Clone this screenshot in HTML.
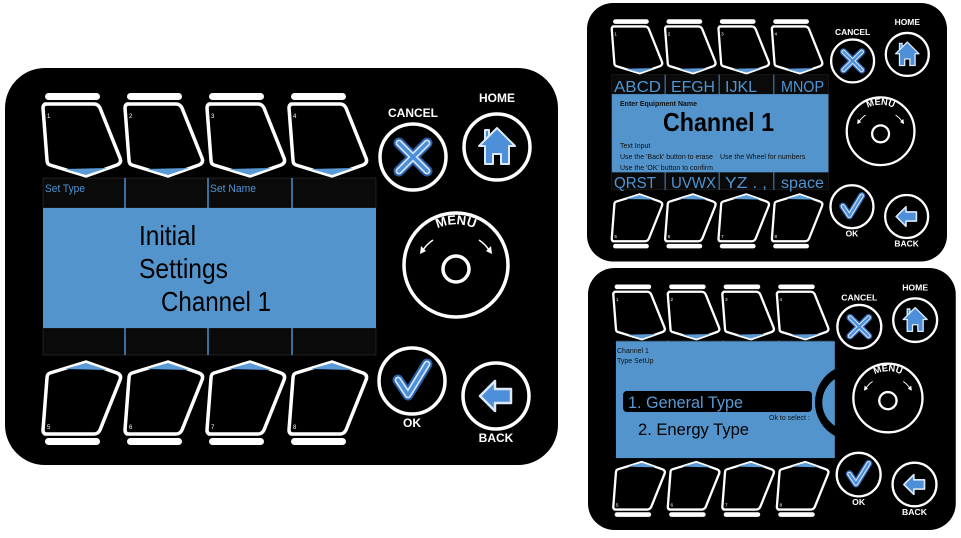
<!DOCTYPE html>
<html><head><meta charset="utf-8"><style>
html,body{margin:0;padding:0;background:#fff;width:961px;height:538px;overflow:hidden}
svg{display:block}
text{font-family:"Liberation Sans",sans-serif}
</style></head><body>
<svg width="961" height="538" viewBox="0 0 961 538" xmlns="http://www.w3.org/2000/svg">
<defs>
<path id="marc" d="M411 182 A44 44 0 0 1 491 182" fill="none"/>
<g id="key">
  <path d="M40 36 L89 36 Q93 36 95 40 L115 90 Q117 95 112 97 L81 108 L45 97 Q42 96 42 92 L38 40 Q38 36 42 36 Z" fill="#000" stroke="#fff" stroke-width="3.5" stroke-linejoin="round"/>
  <polygon points="60,101 102,100 81,107" fill="#5a9ad6"/>
</g>
<g id="keys">
  <rect x="40" y="25" width="55" height="7" rx="3.5" fill="#fff"/>
  <use href="#key"/>
</g>
<g id="ch">
  <rect x="0" y="0" width="553" height="397" rx="40" fill="#000"/>
  <use href="#keys"/><use href="#keys" x="82"/><use href="#keys" x="164"/><use href="#keys" x="246"/>
  <g transform="matrix(1 0 0 -1 0 402)">
    <use href="#keys"/><use href="#keys" x="82"/><use href="#keys" x="164"/><use href="#keys" x="246"/>
  </g>
  <rect x="38" y="110" width="333" height="30" fill="#0a0a0a" stroke="#333" stroke-width="0.6"/>
  <rect x="38" y="260" width="333" height="27" fill="#0a0a0a" stroke="#333" stroke-width="0.6"/>
  <g stroke="#4a8fcf" stroke-width="1.5">
    <line x1="120" y1="110" x2="120" y2="140"/><line x1="203" y1="110" x2="203" y2="140"/><line x1="287" y1="110" x2="287" y2="140"/>
    <line x1="120" y1="260" x2="120" y2="287"/><line x1="203" y1="260" x2="203" y2="287"/><line x1="287" y1="260" x2="287" y2="287"/>
  </g>
  <rect x="38" y="140" width="333" height="120" fill="#5394cc"/>
  <g fill="#000" stroke="#fff" stroke-width="3.5">
    <circle cx="408" cy="89" r="33"/>
    <circle cx="492" cy="79" r="33"/>
    <circle cx="451" cy="197" r="52"/>
    <circle cx="451" cy="201" r="13"/>
    <circle cx="407" cy="313" r="33"/>
    <circle cx="491" cy="328" r="33"/>
  </g>
  <g stroke-linecap="round">
    <path d="M394 75 L422 103 M422 75 L394 103" stroke="#2a5fa8" stroke-width="11"/>
    <path d="M394 75 L422 103 M422 75 L394 103" stroke="#cfe2f7" stroke-width="7"/>
    <path d="M394 75 L422 103 M422 75 L394 103" stroke="#4d8fd8" stroke-width="3.5"/>
  </g>
  <path d="M492 60 L510 78 L504 78 L504 96 L496 96 L496 86 L488 86 L488 96 L480 96 L480 78 L474 78 Z M480 62 L484 62 L484 68 L480 72 Z" fill="#4d8fd8" stroke="#dbe9f8" stroke-width="2" stroke-linejoin="round"/>
  <path d="M393 312 L403 327 L422 296" fill="none" stroke="#2a5fa8" stroke-width="11" stroke-linecap="round" stroke-linejoin="round"/>
  <path d="M393 312 L403 327 L422 296" fill="none" stroke="#cfe2f7" stroke-width="7" stroke-linecap="round" stroke-linejoin="round"/>
  <path d="M393 312 L403 327 L422 296" fill="none" stroke="#4d8fd8" stroke-width="3.5" stroke-linecap="round" stroke-linejoin="round"/>
  <path d="M475 328 L490 313 L490 321 L506 321 L506 335 L490 335 L490 343 Z" fill="#4d8fd8" stroke="#dbe9f8" stroke-width="2.5" stroke-linejoin="round"/>
  <path d="M418 182 Q422 176 428 172 M474 172 Q480 176 484 182" fill="none" stroke="#fff" stroke-width="1.5"/>
  <path d="M415 186 L416 178 L421 183 Z M487 186 L486 178 L481 183 Z" fill="#fff"/>
</g>
</defs>

<g transform="translate(5,68)">
  <use href="#ch"/>
  <g font-size="6" fill="#fff">
    <text x="42" y="50">1</text><text x="124" y="50">2</text><text x="206" y="50">3</text><text x="288" y="50">4</text>
    <text x="42" y="361">5</text><text x="124" y="361">6</text><text x="206" y="361">7</text><text x="288" y="361">8</text>
  </g>
  <g font-size="12" font-weight="bold" fill="#fff" text-anchor="middle">
    <text x="408" y="49">CANCEL</text><text x="492" y="34">HOME</text>
    <text x="407" y="359">OK</text><text x="491" y="374">BACK</text>
    <text font-size="13"><textPath href="#marc" startOffset="50%">MENU</textPath></text>
  </g>
  <g font-size="11" fill="#4f95d3">
    <text x="40" y="124" textLength="40" lengthAdjust="spacingAndGlyphs">Set Type</text>
    <text x="205" y="124" textLength="46" lengthAdjust="spacingAndGlyphs">Set Name</text>
  </g>
  <g font-size="28" fill="#000">
    <text x="134" y="177" textLength="57" lengthAdjust="spacingAndGlyphs">Initial</text>
    <text x="134" y="210" textLength="89" lengthAdjust="spacingAndGlyphs">Settings</text>
    <text x="156" y="243" textLength="110" lengthAdjust="spacingAndGlyphs">Channel 1</text>
  </g>
</g>

<g transform="translate(587,3) scale(0.651)">
  <use href="#ch"/>
  <g font-size="7" fill="#fff">
    <text x="42" y="50">1</text><text x="124" y="50">2</text><text x="206" y="50">3</text><text x="288" y="50">4</text>
    <text x="42" y="361">5</text><text x="124" y="361">6</text><text x="206" y="361">7</text><text x="288" y="361">8</text>
  </g>
  <g font-size="13" font-weight="bold" fill="#fff" text-anchor="middle">
    <text x="408" y="49">CANCEL</text><text x="492" y="34">HOME</text>
    <text x="407" y="359">OK</text><text x="491" y="374">BACK</text>
    <text font-size="14"><textPath href="#marc" startOffset="50%">MENU</textPath></text>
  </g>
</g>
<g fill="#4f95d3" font-size="16">
  <text x="614" y="92" textLength="47" lengthAdjust="spacingAndGlyphs">ABCD</text>
  <text x="671" y="92" textLength="44" lengthAdjust="spacingAndGlyphs">EFGH</text>
  <text x="725" y="92" textLength="32" lengthAdjust="spacingAndGlyphs">IJKL</text>
  <text x="781" y="92" textLength="43" lengthAdjust="spacingAndGlyphs">MNOP</text>
  <text x="614" y="188" textLength="42" lengthAdjust="spacingAndGlyphs">QRST</text>
  <text x="671" y="188" textLength="45" lengthAdjust="spacingAndGlyphs">UVWX</text>
  <text x="725" y="188" textLength="42" lengthAdjust="spacingAndGlyphs">YZ . ,</text>
  <text x="781" y="188" textLength="43" lengthAdjust="spacingAndGlyphs">space</text>
</g>
<g fill="#111" font-size="7">
  <text x="620" y="106" font-weight="bold">Enter Equipment Name</text>
  <text x="620" y="148">Text Input</text>
  <text x="620" y="159">Use the 'Back' button to erase</text>
  <text x="720" y="159">Use the Wheel for numbers</text>
  <text x="620" y="170">Use the 'OK' button to confirm</text>
</g>
<text x="663" y="131" font-size="26" font-weight="bold" fill="#000" textLength="111" lengthAdjust="spacingAndGlyphs">Channel 1</text>

<g transform="translate(588,268) scale(0.665,0.66)">
  <use href="#ch"/>
  <rect x="36" y="108" width="6" height="182" fill="#000"/>
  <rect x="42" y="111" width="329" height="177" fill="#5394cc"/>
  <g font-size="7" fill="#fff">
    <text x="42" y="50">1</text><text x="124" y="50">2</text><text x="206" y="50">3</text><text x="288" y="50">4</text>
    <text x="42" y="361">5</text><text x="124" y="361">6</text><text x="206" y="361">7</text><text x="288" y="361">8</text>
  </g>
  <g font-size="13" font-weight="bold" fill="#fff" text-anchor="middle">
    <text x="408" y="49">CANCEL</text><text x="492" y="34">HOME</text>
    <text x="407" y="359">OK</text><text x="491" y="374">BACK</text>
    <text font-size="14"><textPath href="#marc" startOffset="50%">MENU</textPath></text>
  </g>
</g>
<path d="M835 369 A38 38 0 0 0 835 436 L835 426 A28 28 0 0 1 835 379 Z" fill="#000"/>
<g fill="#111" font-size="7">
  <text x="617" y="353">Channel 1</text>
  <text x="617" y="363">Type SetUp</text>
  <text x="769" y="420">Ok to select :</text>
</g>
<rect x="623" y="391" width="189" height="21" rx="4" fill="#000"/>
<text x="628" y="408" font-size="17" fill="#5a9ad6" textLength="115" lengthAdjust="spacingAndGlyphs">1. General Type</text>
<text x="638" y="435" font-size="17" fill="#000" textLength="111" lengthAdjust="spacingAndGlyphs">2. Energy Type</text>
</svg>
</body></html>
